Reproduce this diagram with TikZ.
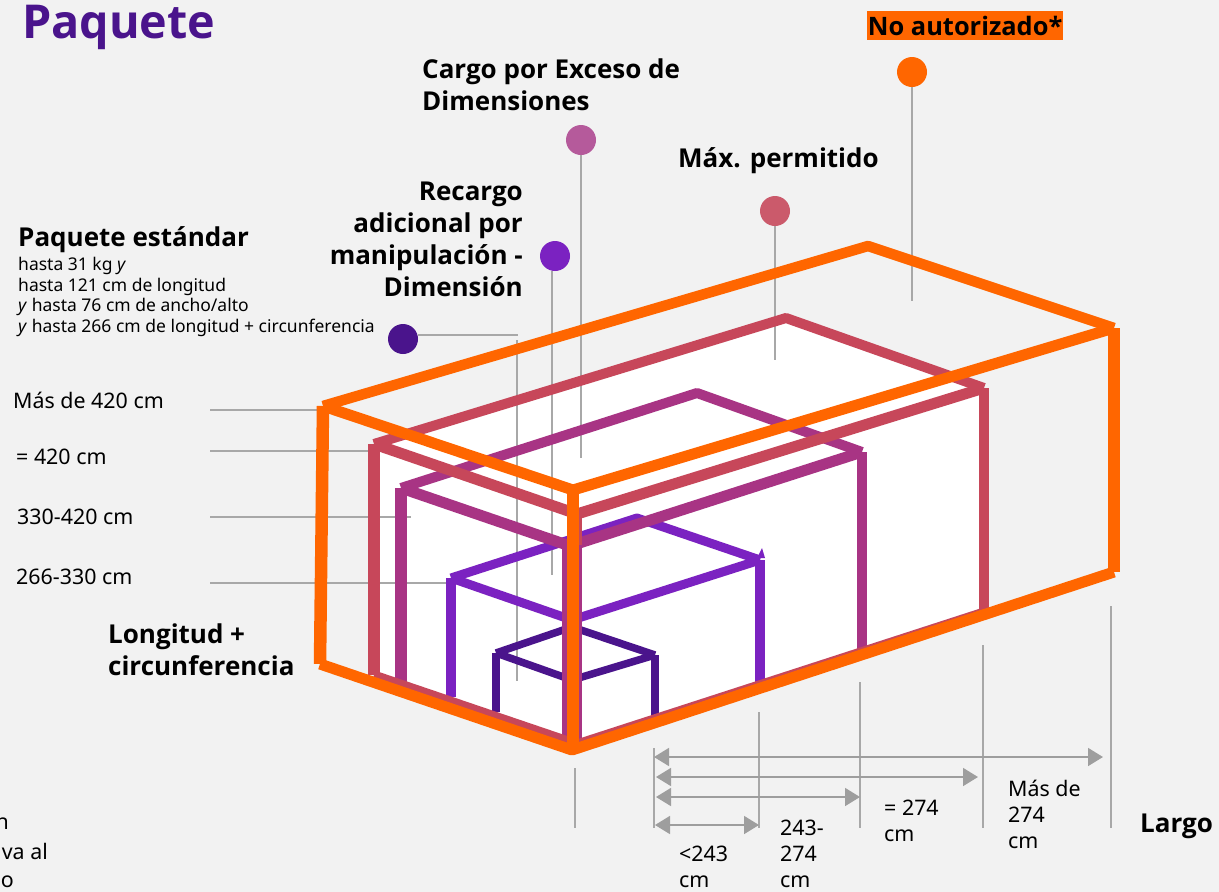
\documentclass[tikz,border=0pt]{standalone}
\usepackage{fontspec}
\setmainfont{Noto Sans}
\newfontfamily\headfont{Open Sans}
\usepackage{xcolor}
\usetikzlibrary{arrows.meta,positioning}
\definecolor{pagegrey}{HTML}{F2F2F2}
\definecolor{leadgrey}{HTML}{A8A8A8}
\definecolor{dimgrey}{HTML}{9E9E9E}
\definecolor{boxorange}{HTML}{FF6600}
\definecolor{boxred}{HTML}{C7475A}
\definecolor{boxmagenta}{HTML}{A83484}
\definecolor{boxviolet}{HTML}{7B22C1}
\definecolor{boxdark}{HTML}{4A148C}
\definecolor{dotred}{HTML}{CB5A6B}
\definecolor{dotpink}{HTML}{B55A9B}

\begin{document}
\begin{tikzpicture}[x=1pt, y=-1pt, line join=round,
    headlabel/.style={inner sep=0pt, align=left, anchor=base west, font=\fontsize{26}{32}\selectfont\headfont\bfseries},
    notelabel/.style={inner sep=0pt, align=left, anchor=base west, font=\fontsize{17.5}{20.6}\selectfont},
    sizelabel/.style={inner sep=0pt, align=left, anchor=base west, font=\fontsize{21.4}{26}\selectfont},
    dot/.style={circle, inner sep=0pt, minimum size=30pt},
    lead/.style={draw=leadgrey, line width=1.4pt},
    dimline/.style={draw=dimgrey, line width=1.6pt, {Triangle[length=15pt,width=18pt]}-{Triangle[length=15pt,width=18pt]}}]
    \useasboundingbox (0,0) rectangle (1219,892);
    \fill [pagegrey] (0,0) rectangle (1219,892);

    \coordinate (redleft) at (374,444);
    \coordinate (redfront) at (577,514);
    \coordinate (redback) at (786,318);
    \coordinate (redright) at (984,388);
    \coordinate (redrightlow) at (984,612);
    \coordinate (redfrontlow) at (577,744);
    \coordinate (redleftlow) at (374,675);
    \fill [white] (redleft) -- (redback) -- (redright) -- (redrightlow) -- (redfrontlow) -- (redleftlow) -- cycle;

    \node [headlabel, font=\fontsize{46.7}{50}\selectfont\headfont\bfseries, text=boxdark] (title) at (22,38) {Paquete};
    \node [headlabel, font=\fontsize{25.4}{32}\selectfont\headfont\bfseries, fill=boxorange, inner xsep=0pt, anchor=west, minimum height=29pt, minimum width=196pt, align=center] (forbidden) at (867,25.5) {No autorizado*};
    \node [headlabel, anchor=north west] (excess) at (422,59) {Cargo por Exceso de\\Dimensiones};
    \node [headlabel] (allowed) at (678,167) {Máx. permitido};
    \node [headlabel, align=right, anchor=north east] (surcharge) at (523,182) {Recargo\\adicional por\\manipulación -\\Dimensión};
    \node [headlabel] (standard) at (18,246) {Paquete estándar};
    \node [notelabel, anchor=north west] (standardnote) at (18,257) {hasta 31 kg \textit{y}\\hasta 121 cm de longitud\\\textit{y} hasta 76 cm de ancho/alto\\\textit{y} hasta 266 cm de longitud + circunferencia};
    \node [sizelabel] (over420) at (13,408) {Más de 420 cm};
    \node [sizelabel] (eq420) at (16,464) {= 420 cm};
    \node [sizelabel] (to420) at (17,524) {330-420 cm};
    \node [sizelabel] (to330) at (16,584) {266-330 cm};
    \node [headlabel, anchor=north west] (girth) at (108,624) {Longitud +\\circunferencia};
    \node [sizelabel, anchor=north west] (under243) at (679,846) {<243\\cm};
    \node [sizelabel, anchor=north west] (to274) at (780,820) {243-\\274\\cm};
    \node [sizelabel, anchor=north west] (eq274) at (884,800) {= 274\\cm};
    \node [sizelabel, anchor=north west] (over274) at (1008,780) {Más de\\274\\cm};
    \node [headlabel] (largo) at (1140,832) {Largo};
    \node [sizelabel, anchor=base east] (cutn) at (9,829) {n};
    \node [sizelabel, anchor=base east] (cutva) at (48,859) {va al};
    \node [sizelabel, anchor=base east] (cuto) at (14,887) {o};

    \node [dot, fill=boxorange] (dotorange) at (912,72) {};
    \node [dot, fill=dotred] (dotmax) at (775,211) {};
    \node [dot, fill=dotpink] (dotexcess) at (581,140) {};
    \node [dot, fill=boxviolet] (dotsurcharge) at (555,256) {};
    \node [dot, fill=boxdark] (dotstandard) at (403,339) {};

    \coordinate (orangeend) at (912,301);
    \coordinate (maxend) at (775,360);
    \coordinate (excessend) at (581,458);
    \coordinate (surchargetop) at (552,271);
    \coordinate (surchargeend) at (552,575);
    \coordinate (standardmid) at (518,335);
    \coordinate (standardtop) at (517,340);
    \coordinate (standardend) at (517,681);
    \draw [lead] (dotorange) -- (orangeend);
    \draw [lead] (dotmax) -- (maxend);
    \draw [lead] (dotexcess) -- (excessend);
    \draw [lead] (surchargetop) -- (surchargeend);
    \draw [lead] (dotstandard.east |- standardmid) -- (standardmid);
    \draw [lead] (standardtop) -- (standardend);

    \foreach \ypos/\xend/\rowname in {410/322/rowa, 451/372/rowb, 517/411/rowc, 583/450/rowd} {
        \coordinate (\rowname start) at (210,\ypos);
        \coordinate (\rowname end) at (\xend,\ypos);
        \draw [lead] (\rowname start) -- (\rowname end);
    }
    \foreach \xpos/\ytop/\colname in {575/768/cola, 654/748/colb, 759/712/colc, 860/682/cold, 983/645/cole, 1111/606/colf} {
        \coordinate (\colname top) at (\xpos,\ytop);
        \coordinate (\colname end) at (\xpos,828);
        \draw [lead] (\colname top) -- (\colname end);
    }

    \coordinate (dimastart) at (654,757);
    \coordinate (dimaend) at (1103,757);
    \coordinate (dimbstart) at (656,777);
    \coordinate (dimbend) at (978,777);
    \coordinate (dimcstart) at (656,797);
    \coordinate (dimcend) at (860,797);
    \coordinate (dimdstart) at (655,825);
    \coordinate (dimdend) at (759,825);
    \draw [dimline] (dimastart) -- (dimaend);
    \draw [dimline] (dimbstart) -- (dimbend);
    \draw [dimline] (dimcstart) -- (dimcend);
    \draw [dimline] (dimdstart) -- (dimdend);

    \begin{scope}[draw=boxdark, line width=7.5pt]
        \draw [line width=8.5pt] (496,712) -- (496,653);
        \draw (496,653) -- (572,627) -- (655,655);
        \draw (496,653) -- (572,680) -- (655,655);
        \draw [line width=7.5pt] (655,655) -- (655,715);
    \end{scope}
    \begin{scope}[draw=boxviolet, line width=9pt]
        \draw [line width=10pt] (451,697) -- (451,578);
        \draw (451,578) -- (637,518) -- (760,560);
        \draw (451,578) -- (572,620) -- (760,560);
        \draw [line width=10pt] (760,560) -- (760,682);
        \fill [boxviolet] (757,558) -- (762,548) -- (765,558) -- cycle;
    \end{scope}
    \begin{scope}[draw=boxmagenta, line width=10pt]
        \draw [line width=12pt] (401,682) -- (401,488);
        \draw (401,488) -- (697,393) -- (862,452);
        \draw [line width=11pt] (401,488) -- (570,546) -- (862,452);
        \draw [line width=10pt] (862,452) -- (862,652);
        \draw [line width=20pt] (572,546) -- (572,748);
        \draw [line width=8pt] (572,748) -- (862,654);
    \end{scope}
    \begin{scope}[draw=boxred, line width=10pt]
        \draw [line width=12pt] (redleftlow) -- (redleft);
        \draw (redleft) -- (redback) -- (redright);
        \draw [line width=11pt] (redleft) -- (redfront) -- (redright);
        \draw [line width=10.5pt] (redright) -- (redrightlow);
        \draw [line width=10pt] (redfront) -- (577,545);
        \draw [line width=9pt] (redleftlow) -- (redfrontlow) -- (redrightlow);
    \end{scope}
    \begin{scope}[draw=boxorange, line width=10.5pt]
        \draw [line width=12.5pt] (320,664) -- (323,406);
        \draw (323,406) -- (868,246) -- (1114,328);
        \draw [line width=11pt] (323,406) -- (573,490) -- (1114,328);
        \draw [line width=12pt] (1114,328) -- (1114,572);
        \draw [line width=12pt] (573,490) -- (573,748);
        \draw [line width=11pt] (320,664) -- (572,750) -- (1114,572);
    \end{scope}
\end{tikzpicture}
\end{document}
